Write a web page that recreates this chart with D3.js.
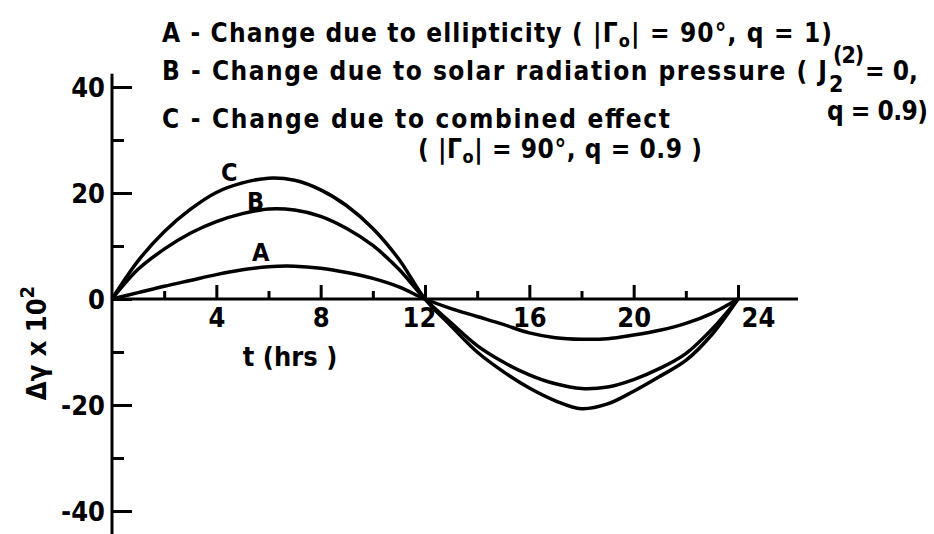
<!DOCTYPE html>
<html>
<head>
<meta charset="utf-8">
<script src="https://cdn.jsdelivr.net/npm/d3@7"></script>
<style>
  html, body { margin: 0; padding: 0; background: #fff; }
  svg { display: block; }
  text { font-family: "DejaVu Sans Condensed", "DejaVu Sans", sans-serif; font-weight: bold; fill: #000; }
</style>
</head>
<body>
<svg id="chart" width="934" height="534"></svg>
<script>
// Time after epoch (hours)
const hours = [0, 1, 2, 3, 4, 5, 6, 7, 8, 9, 10, 11, 12, 13, 14, 15, 16, 17, 18, 19, 20, 21, 22, 23, 24];

// Δγ × 10² for each effect
const seriesA = [0, 1.2, 2.4, 3.5, 4.6, 5.5, 6.1, 6.2, 5.8, 5.0, 3.9, 2.3, 0,
                 -1.8, -3.3, -4.8, -6.4, -7.3, -7.6, -7.5, -6.8, -5.9, -4.6, -2.7, 0];
const seriesB = [0, 5.6, 9.4, 12.4, 14.6, 16.1, 17.0, 16.8, 15.6, 13.3, 10.1, 5.6, 0,
                 -4.5, -8.8, -11.9, -14.3, -16.0, -16.9, -16.6, -15.2, -13.1, -10.3, -5.7, 0];
const seriesC = [0, 7.2, 12.7, 16.9, 20.1, 21.9, 22.8, 22.4, 20.6, 17.6, 13.3, 7.5, 0,
                 -5.1, -10.0, -13.7, -16.8, -19.2, -20.7, -19.8, -17.4, -14.6, -11.6, -6.7, 0];

const seriesNames = ["A", "B", "C"];

// Axis ticks
const xMajorTicks = [4, 8, 12, 16, 20, 24];
const xMinorTicks = [2, 6, 10, 14, 18, 22];
const yMajorTicks = [-40, -20, 0, 20, 40];
const yMinorTicks = [-30, -10, 10, 30];

const svg = d3.select("#chart");

const x = d3.scaleLinear().domain([0, 24]).range([112, 738]);
const y = d3.scaleLinear().domain([-40, 40]).range([511, 87]);

const ink = "#000";
const lw = 3;

// ---- axes ----
// horizontal axis line through zero
svg.append("line")
  .attr("x1", x(0)).attr("x2", x(26.3))
  .attr("y1", y(0)).attr("y2", y(0))
  .attr("stroke", ink).attr("stroke-width", lw);

// vertical axis line
svg.append("line")
  .attr("x1", x(0)).attr("x2", x(0))
  .attr("y1", y(42.5)).attr("y2", y(-44.5))
  .attr("stroke", ink).attr("stroke-width", lw);

const xMajor = svg.append("g")
  .attr("transform", `translate(0,${y(0)})`)
  .call(d3.axisBottom(x).tickValues(xMajorTicks).tickSizeInner(-14).tickSizeOuter(0)
    .tickPadding(19).tickFormat(d => String(d)));
const xMinor = svg.append("g")
  .attr("transform", `translate(0,${y(0)})`)
  .call(d3.axisBottom(x).tickValues(xMinorTicks).tickSizeInner(-8).tickSizeOuter(0)
    .tickFormat(""));

const yMajor = svg.append("g")
  .attr("transform", `translate(${x(0)},0)`)
  .call(d3.axisLeft(y).tickValues(yMajorTicks).tickSizeInner(-20).tickSizeOuter(0)
    .tickPadding(7).tickFormat(d => (d < 0 ? "-" : "") + Math.abs(d)));
const yMinor = svg.append("g")
  .attr("transform", `translate(${x(0)},0)`)
  .call(d3.axisLeft(y).tickValues(yMinorTicks).tickSizeInner(-12).tickSizeOuter(0)
    .tickFormat(""));

[xMajor, xMinor, yMajor, yMinor].forEach(g => {
  g.select(".domain").remove();
  g.selectAll(".tick line").attr("stroke", ink).attr("stroke-width", lw);
  g.selectAll(".tick text")
    .attr("font-family", null).attr("font-size", 27).style("fill", ink);
});
xMajor.selectAll(".tick text").attr("dy", "0.32em");
// the end labels sit clear of the converging curves
xMajor.selectAll(".tick text").attr("dx", d => d === 24 ? 20 : (d === 12 ? -6 : 0));
yMajor.selectAll(".tick text").attr("dy", "0.36em");

// axis titles
svg.append("text")
  .attr("x", 290).attr("y", 366)
  .attr("text-anchor", "middle")
  .attr("font-size", 27)
  .text("t (hrs )");

const yTitle = svg.append("text")
  .attr("transform", "translate(46,343) rotate(-90)")
  .attr("text-anchor", "middle")
  .attr("font-size", 27);
yTitle.append("tspan").text("\u0394\u03B3 x 10");
yTitle.append("tspan").attr("font-size", 20).attr("dy", -12).text("2");

// ---- curves ----
const allSeries = [seriesA, seriesB, seriesC];
const line = d3.line()
  .x((d, i) => x(hours[i]))
  .y(d => y(d))
  .curve(d3.curveCatmullRom.alpha(0.5));

svg.append("g").selectAll("path")
  .data(allSeries)
  .join("path")
  .attr("d", d => line(d))
  .attr("fill", "none")
  .attr("stroke", ink)
  .attr("stroke-width", 3.5)
  .attr("stroke-linejoin", "round");

// curve letters placed just above each peak
const labelHour = [5.7, 5.5, 4.5];
const labelLift = [7, 1, 7];
svg.append("g").selectAll("text")
  .data(seriesNames)
  .join("text")
  .attr("x", (d, i) => x(labelHour[i]))
  .attr("y", (d, i) => {
    const s = allSeries[i];
    const h = labelHour[i];
    const lo = Math.floor(h), f = h - lo;
    return y(s[lo] * (1 - f) + s[lo + 1] * f) - labelLift[i];
  })
  .attr("text-anchor", "middle")
  .attr("font-size", 25)
  .text(d => d);

// ---- key ----
const key = svg.append("g").attr("font-size", 26);

const l1 = key.append("text").attr("x", 162).attr("y", 42)
  .attr("textLength", 670).attr("lengthAdjust", "spacing");
l1.append("tspan").text("A - Change due to ellipticity ( |\u0393");
l1.append("tspan").attr("font-size", 18).attr("dy", 5).text("o");
l1.append("tspan").attr("dy", -5).text("| = 90\u00B0, q = 1)");

key.append("text").attr("x", 833).attr("y", 63).attr("font-size", 23)
  .attr("letter-spacing", -1).text("(2)");

key.append("text").attr("x", 162).attr("y", 80)
  .attr("textLength", 665).attr("lengthAdjust", "spacing")
  .text("B - Change due to solar radiation pressure ( J");
key.append("text").attr("x", 829).attr("y", 92).attr("font-size", 23).text("2");
key.append("text").attr("x", 865).attr("y", 80)
  .text("= 0,");

key.append("text").attr("x", 162).attr("y", 128)
  .attr("textLength", 508).attr("lengthAdjust", "spacing")
  .text("C - Change due to combined effect");
key.append("text").attr("x", 827).attr("y", 120)
  .attr("textLength", 101).attr("lengthAdjust", "spacing")
  .text("q = 0.9)");

const l4 = key.append("text").attr("x", 418).attr("y", 158)
  .attr("textLength", 284).attr("lengthAdjust", "spacing");
l4.append("tspan").text("( |\u0393");
l4.append("tspan").attr("font-size", 18).attr("dy", 5).text("o");
l4.append("tspan").attr("dy", -5).text("| = 90\u00B0, q = 0.9 )");
</script>
</body>
</html>
